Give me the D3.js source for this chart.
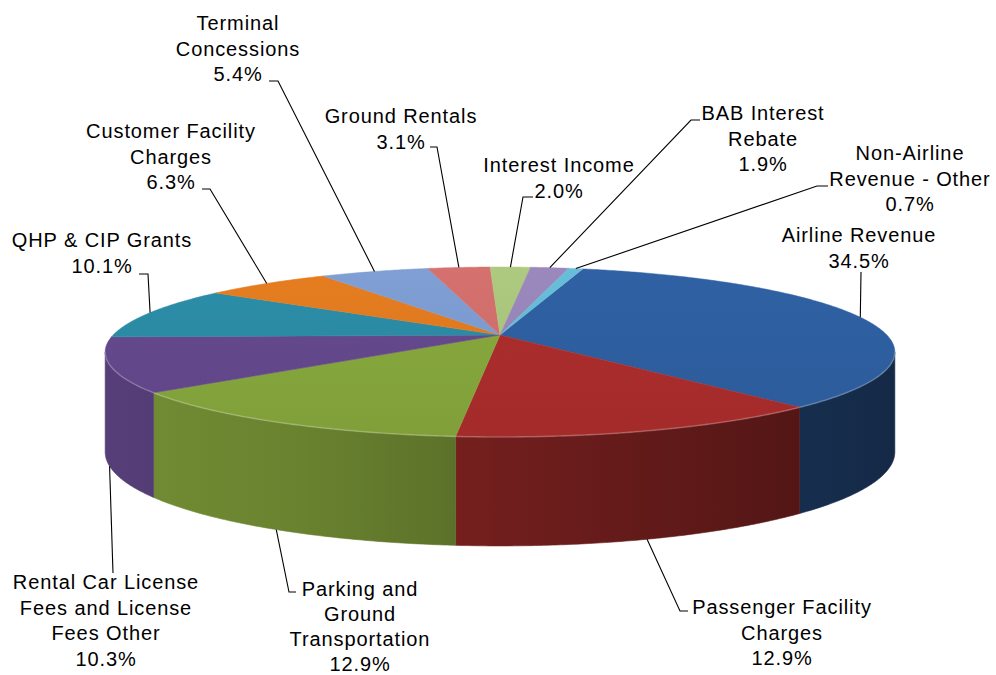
<!DOCTYPE html>
<html>
<head>
<meta charset="utf-8">
<script src="https://cdn.jsdelivr.net/npm/d3@7/dist/d3.min.js"></script>
<style>
  html, body { margin: 0; padding: 0; background: #ffffff; }
  svg text { font-family: "Liberation Sans", Arial, sans-serif; }
</style>
</head>
<body>
<svg id="chart" width="996" height="675"></svg>
<script>
// Revenue sources, share of total (%)
const categories = [
  "Airline Revenue",
  "Passenger Facility Charges",
  "Parking and Ground Transportation",
  "Rental Car License Fees and License Fees Other",
  "QHP & CIP Grants",
  "Customer Facility Charges",
  "Terminal Concessions",
  "Ground Rentals",
  "Interest Income",
  "BAB Interest Rebate",
  "Non-Airline Revenue - Other"
];
const shares = [34.5, 12.9, 12.9, 10.3, 10.1, 6.3, 5.4, 3.1, 2.0, 1.9, 0.7];

// How each category name wraps in its label
const labelLines = [
  ["Airline Revenue"],
  ["Passenger Facility", "Charges"],
  ["Parking and", "Ground", "Transportation"],
  ["Rental Car License", "Fees and License", "Fees Other"],
  ["QHP & CIP Grants"],
  ["Customer Facility", "Charges"],
  ["Terminal", "Concessions"],
  ["Ground Rentals"],
  ["Interest Income"],
  ["BAB Interest", "Rebate"],
  ["Non-Airline", "Revenue - Other"]
];

const sliceColors = [
  "#2e5e9f", "#a92d2c", "#85a53c", "#64488c", "#2b8aa4", "#e0791f",
  "#7b9bcf", "#cf6e6c", "#a8c47c", "#9784b8", "#65b9d3"
];

// Label placement: centre x, first baseline, line spacing, leader stub, and which rim the leader meets
const labelLayout = [
  { x: 859, y: 242, lh: 25.7, stub: [[861, 272], [861, 272]], rim: "top" },
  { x: 782, y: 614, lh: 25.7, stub: [[688, 611], [680, 611]], rim: "bottom" },
  { x: 360, y: 596, lh: 25.0, stub: [[296, 592], [289, 592]], rim: "bottom" },
  { x: 106, y: 589, lh: 25.7, stub: [[113, 573], [113, 573]], rim: "bottom" },
  { x: 102, y: 247, lh: 25.7, stub: [[139, 274], [148, 274]], rim: "top" },
  { x: 171, y: 138, lh: 25.7, stub: [[202, 189], [210, 189]], rim: "top" },
  { x: 238, y: 30,  lh: 25.7, stub: [[269, 81], [278, 81]], rim: "top" },
  { x: 401, y: 123, lh: 25.7, stub: [[430, 147], [437, 147]], rim: "top" },
  { x: 559, y: 172, lh: 25.7, stub: [[533, 197], [523, 197]], rim: "top" },
  { x: 763, y: 120, lh: 25.7, stub: [[700, 120], [691, 120]], rim: "top" },
  { x: 910, y: 160, lh: 25.7, stub: [[828, 186], [817, 186]], rim: "top" }
];

const svg = d3.select("#chart");
const defs = svg.append("defs");

// ---- 3D projection of a unit disc seen from slightly above, in perspective ----
const cx = 500, cy = 335;          // screen position of the disc centre
const focal = 1891, dist = 4.888;  // camera focal length and distance (disc radius = 1)
const sinA = 0.2109, cosA = 0.9775; // camera elevation
const baseThick = 97.7, thickGain = 0.115; // extrusion height, a little taller toward the viewer

// angle measured clockwise from 12 o'clock; h = 0 top rim, 1 bottom rim
function proj(theta, h) {
  const x = Math.sin(theta), z = -Math.cos(theta);
  const den = dist - z * cosA;
  const sx = cx + focal * x / den;
  const sy = cy + focal * z * sinA / den + h * baseThick * (1 + thickGain * z);
  return [sx, sy];
}

// angles where the outline turns (left / right silhouette)
const thetaR = Math.acos(-cosA / dist);
const thetaL = 2 * Math.PI - thetaR;

const startAngle = 14.8 * Math.PI / 180;
const arcs = d3.pie().sort(null).value(d => d)
  .startAngle(startAngle).endAngle(startAngle + 2 * Math.PI)(shares);

const deg = Math.PI / 180;
function rimPoints(a0, a1, h) {
  const n = Math.max(2, Math.ceil((a1 - a0) / (0.5 * deg)));
  return d3.range(n + 1).map(i => proj(a0 + (a1 - a0) * i / n, h));
}
const line = d3.line();

// ---- side walls (front half only) ----
const wallG = svg.append("g");
arcs.forEach((a, i) => {
  const a0 = Math.max(a.startAngle, thetaR);
  const a1 = Math.min(a.endAngle, thetaL);
  if (a1 <= a0) return;
  const base = d3.rgb(sliceColors[i]);
  const shade = k => d3.rgb(base.r * k, base.g * k, base.b * k).formatHex();
  const gid = "wall" + i;
  const g = defs.append("linearGradient").attr("id", gid)
    .attr("gradientUnits", "userSpaceOnUse")
    .attr("x1", 105).attr("x2", 895).attr("y1", 0).attr("y2", 0);
  [[0, 0.86], [0.25, 0.79], [0.5, 0.66], [0.75, 0.55], [1, 0.44]].forEach(([o, k]) =>
    g.append("stop").attr("offset", o).attr("stop-color", shade(k)));
  const pts = rimPoints(a0, a1, 0).concat(rimPoints(a0, a1, 1).reverse());
  wallG.append("path").attr("d", line(pts) + "Z")
    .attr("fill", `url(#${gid})`)
    .attr("stroke", `url(#${gid})`).attr("stroke-width", 0.6);
});

// ---- top faces ----
const topG = svg.append("g");
arcs.forEach((a, i) => {
  const c = d3.rgb(sliceColors[i]);
  const gid = "top" + i;
  const g = defs.append("linearGradient").attr("id", gid)
    .attr("gradientUnits", "userSpaceOnUse")
    .attr("x1", 0).attr("x2", 0).attr("y1", 265).attr("y2", 440);
  g.append("stop").attr("offset", 0).attr("stop-color", c.brighter(0.08).formatHex());
  g.append("stop").attr("offset", 1).attr("stop-color", c.darker(0.1).formatHex());
  const pts = [[cx, cy]].concat(rimPoints(a.startAngle, a.endAngle, 0));
  topG.append("path").attr("d", line(pts) + "Z")
    .attr("fill", `url(#${gid})`)
    .attr("stroke", `url(#${gid})`).attr("stroke-width", 0.5)
    .attr("stroke-linejoin", "round");
});

// soft highlight along the front edge of the top face
svg.append("path")
  .attr("d", line(rimPoints(thetaR, thetaL, 0)))
  .attr("fill", "none")
  .attr("stroke", "rgba(255,255,255,0.22)")
  .attr("stroke-width", 1.6);

// ---- leader lines and labels ----
const pct = d3.format(".1f");
const labelG = svg.append("g");
arcs.forEach((a, i) => {
  const L = labelLayout[i];
  const mid = (a.startAngle + a.endAngle) / 2;
  const anchor = proj(mid, L.rim === "top" ? 0 : 1);
  labelG.append("path")
    .attr("d", line([L.stub[0], L.stub[1], anchor]))
    .attr("fill", "none").attr("stroke", "#000").attr("stroke-width", 1.1);

  const rows = labelLines[i].concat([pct(shares[i]) + "%"]);
  const t = labelG.append("text")
    .attr("text-anchor", "middle")
    .attr("font-size", 20)
    .attr("letter-spacing", "0.9px")
    .attr("fill", "#000");
  rows.forEach((r, j) => {
    t.append("tspan").attr("x", L.x).attr("y", L.y + j * L.lh).text(r);
  });
});
</script>
</body>
</html>
